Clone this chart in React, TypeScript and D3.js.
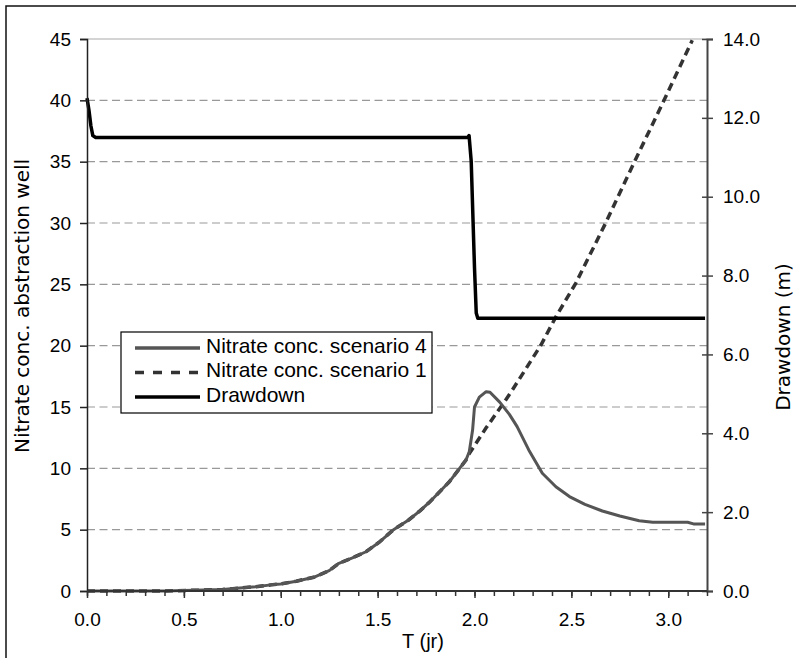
import React, { useEffect, useRef } from "react";
import * as d3 from "d3";

// T (jr) values and nitrate concentrations, scenario 4 (solid grey)
const timeS4 = [0, 0.2, 0.4, 0.6, 0.7, 0.79, 0.87, 0.95, 1.0, 1.08, 1.17, 1.25, 1.3, 1.37, 1.44, 1.51, 1.58, 1.66, 1.72, 1.77, 1.87, 1.956, 1.973, 1.99, 2.0, 2.025, 2.06, 2.08, 2.13, 2.18, 2.22, 2.28, 2.35, 2.42, 2.49, 2.57, 2.66, 2.75, 2.85, 2.92, 3.0, 3.1, 3.13, 3.19];
const concS4 = [0, 0, 0, 0.08, 0.12, 0.24, 0.35, 0.5, 0.57, 0.8, 1.12, 1.66, 2.26, 2.7, 3.2, 4.0, 4.97, 5.79, 6.55, 7.28, 8.9, 10.68, 11.35, 13.1, 15.0, 15.8, 16.25, 16.2, 15.4, 14.4, 13.4, 11.5, 9.6, 8.5, 7.7, 7.06, 6.52, 6.11, 5.73, 5.6, 5.6, 5.6, 5.47, 5.46];

// scenario 1 (dashed)
const timeS1 = [0, 0.2, 0.4, 0.6, 0.7, 0.79, 0.87, 0.95, 1.0, 1.08, 1.17, 1.25, 1.3, 1.37, 1.44, 1.51, 1.58, 1.66, 1.72, 1.77, 1.87, 1.956, 1.973, 2.06, 2.162, 2.196, 2.343, 2.42, 2.523, 2.677, 2.823, 2.978, 3.124];
const concS1 = [0, 0, 0, 0.08, 0.12, 0.24, 0.35, 0.5, 0.57, 0.8, 1.12, 1.66, 2.26, 2.7, 3.2, 4.0, 4.97, 5.79, 6.55, 7.28, 8.9, 10.68, 11.2, 13.3, 15.6, 16.4, 20.05, 22.35, 25.1, 30.0, 34.9, 40.0, 44.9];

// drawdown (m), right axis
const timeDD = [0, 0.01, 0.02, 0.03, 0.045, 1.965, 1.972, 1.983, 2.0, 2.009, 2.017, 3.19];
const drawdown = [12.5, 12.2, 11.8, 11.55, 11.5, 11.5, 11.55, 10.9, 8.2, 7.05, 6.92, 6.92];

const leftTicks = [0, 5, 10, 15, 20, 25, 30, 35, 40, 45];
const rightTicks = [0, 2, 4, 6, 8, 10, 12, 14];
const xTicks = [0, 0.5, 1.0, 1.5, 2.0, 2.5, 3.0];

const legendLabels = ["Nitrate conc. scenario 4", "Nitrate conc. scenario 1", "Drawdown"];

const App = () => {
  const ref = useRef(null);

  useEffect(() => {
    draw();
  });

  let draw = () => {
    const width = 796;
    const height = 658;
    const left = 87;
    const right = 707;
    const top = 39;
    const bottom = 591;
    const font = "Liberation Sans, Arial, sans-serif";

    d3.select(ref.current).selectAll("*").remove();

    let svg = d3
      .select(ref.current)
      .attr("width", width)
      .attr("height", height)
      .style("font-family", font);

    svg.append("rect").attr("width", width).attr("height", height).attr("fill", "#fff");

    // outer chart frame (cut off at right and bottom)
    svg
      .append("rect")
      .attr("x", 6)
      .attr("y", 6)
      .attr("width", 820)
      .attr("height", 700)
      .attr("fill", "none")
      .attr("stroke", "#111")
      .attr("stroke-width", 1.5);

    let x = d3.scaleLinear().domain([0, 3.2]).range([left, right]);
    let yL = d3.scaleLinear().domain([0, 45]).range([bottom, top]);
    let yR = d3.scaleLinear().domain([0, 14]).range([bottom, top]);

    // gridlines
    svg
      .append("g")
      .selectAll("line")
      .data(leftTicks.filter((d) => d > 0))
      .enter()
      .append("line")
      .attr("x1", left)
      .attr("x2", right)
      .attr("y1", (d) => yL(d))
      .attr("y2", (d) => yL(d))
      .attr("stroke", (d) => (d === 45 ? "#aaa" : "#999"))
      .attr("stroke-width", 1.2)
      .attr("stroke-dasharray", (d) => (d === 45 ? null : "8,4.5"));

    // lines
    const pts = (ts, vs) => ts.map((t, i) => [t, vs[i]]);
    let lineL = d3.line().x((d) => x(d[0])).y((d) => yL(d[1]));
    let lineR = d3.line().x((d) => x(d[0])).y((d) => yR(d[1]));

    svg
      .append("path")
      .attr("d", lineL(pts(timeS1, concS1)))
      .attr("fill", "none")
      .attr("stroke", "#333")
      .attr("stroke-width", 3.5)
      .attr("stroke-dasharray", "8,5");

    svg
      .append("path")
      .attr("d", lineL(pts(timeS4, concS4)))
      .attr("fill", "none")
      .attr("stroke", "#555")
      .attr("stroke-width", 3)
      .attr("stroke-linejoin", "round");

    svg
      .append("path")
      .attr("d", lineR(pts(timeDD, drawdown)))
      .attr("fill", "none")
      .attr("stroke", "#000")
      .attr("stroke-width", 3.5)
      .attr("stroke-linejoin", "round");

    // left axis
    let gl = svg
      .append("g")
      .attr("transform", `translate(${left},0)`)
      .call(d3.axisLeft(yL).tickValues(leftTicks).tickSize(7).tickPadding(9).tickFormat(d3.format("d")));
    gl.select(".domain").attr("stroke", "#222").attr("stroke-width", 1.5);
    gl.selectAll(".tick line").attr("stroke", "#222").attr("stroke-width", 1.5);
    gl.selectAll("text").style("font-size", "19px").attr("fill", "#000").style("font-family", font);

    // right axis
    let gr = svg
      .append("g")
      .attr("transform", `translate(${right},0)`)
      .call(d3.axisRight(yR).tickValues(rightTicks).tickSize(6).tickPadding(10).tickFormat(d3.format(".1f")));
    gr.select(".domain").attr("stroke", "#444").attr("stroke-width", 2);
    gr.selectAll(".tick line").attr("x1", -5).attr("stroke", "#444").attr("stroke-width", 1.5);
    gr.selectAll("text").style("font-size", "19px").attr("fill", "#000").style("font-family", font);

    // bottom axis, minor then major
    svg
      .append("g")
      .attr("transform", `translate(0,${bottom})`)
      .call(d3.axisBottom(x).ticks(32).tickSize(5).tickFormat(""))
      .call((g) => g.select(".domain").remove())
      .selectAll(".tick line")
      .attr("stroke", "#333")
      .attr("stroke-width", 1.5);

    let gb = svg
      .append("g")
      .attr("transform", `translate(0,${bottom})`)
      .call(d3.axisBottom(x).tickValues(xTicks).tickSize(7).tickPadding(15).tickFormat(d3.format(".1f")));
    gb.select(".domain").attr("stroke", "#333").attr("stroke-width", 2).attr("d", `M${left},0H${right}`);
    gb.selectAll(".tick line").attr("stroke", "#333").attr("stroke-width", 1.5);
    gb.selectAll("text").style("font-size", "19px").attr("fill", "#000").style("font-family", font);

    // axis titles
    svg
      .append("text")
      .attr("x", 423)
      .attr("y", 648)
      .attr("text-anchor", "middle")
      .style("font-size", "20px")
      .text("T (jr)");

    svg
      .append("text")
      .attr("transform", "translate(29,306) rotate(-90)")
      .attr("text-anchor", "middle")
      .style("font-family", "DejaVu Sans, sans-serif")
      .style("font-size", "20px")
      .text("Nitrate conc. abstraction well");

    svg
      .append("text")
      .attr("transform", "translate(790,337) rotate(-90)")
      .attr("text-anchor", "middle")
      .style("font-family", "DejaVu Sans, sans-serif")
      .style("font-size", "20px")
      .text("Drawdown (m)");

    // legend
    let lg = svg.append("g");
    lg.append("rect")
      .attr("x", 121)
      .attr("y", 332)
      .attr("width", 311)
      .attr("height", 81)
      .attr("fill", "#fff")
      .attr("stroke", "#000")
      .attr("stroke-width", 1.2);

    const legendStyles = [
      { stroke: "#555", dash: null },
      { stroke: "#333", dash: "9,9" },
      { stroke: "#000", dash: null },
    ];
    const rowY = [348, 372.5, 397];

    legendLabels.forEach((label, i) => {
      lg.append("line")
        .attr("x1", 135)
        .attr("x2", 200)
        .attr("y1", rowY[i])
        .attr("y2", rowY[i])
        .attr("stroke", legendStyles[i].stroke)
        .attr("stroke-width", 3.5)
        .attr("stroke-dasharray", legendStyles[i].dash);
      lg.append("text")
        .attr("x", 206)
        .attr("y", rowY[i] + 4.5)
        .style("font-size", "21px")
        .text(label);
    });
  };

  return <svg ref={ref} style={{ position: "absolute", left: 0, top: 0 }}></svg>;
};

export default App;
